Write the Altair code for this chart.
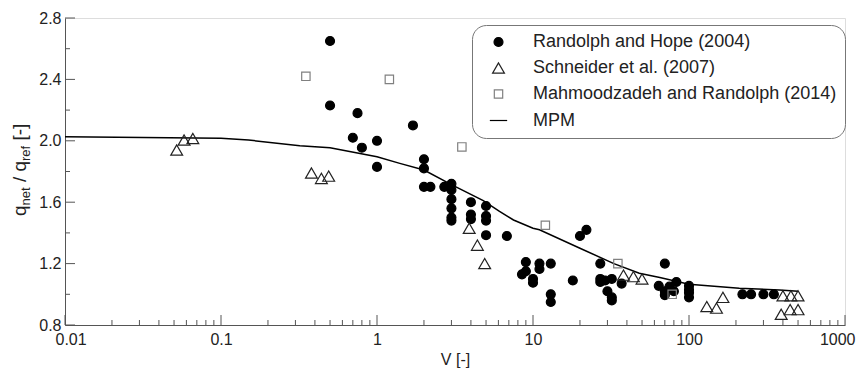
import altair as alt
import pandas as pd

# ---------------- data ----------------
series_names = ["Randolph and Hope (2004)", "Schneider et al. (2007)",
                "Mahmoodzadeh and Randolph (2014)", "MPM"]

rh_V = [0.5, 0.5, 0.75, 1.7, 0.7, 1.0, 0.8, 1.0, 2.0, 2.0, 2.0, 2.2, 2.7,
        3.0, 3.0, 3.0, 3.0, 3.0, 3.0, 4.0, 4.0, 4.0, 5.0, 5.0, 5.0, 5.0,
        6.8, 9.0, 9.0, 8.5, 10, 10, 11, 11, 13, 13, 13, 18, 20, 22,
        27, 27, 27, 29, 32, 30, 32, 32, 37, 64, 70, 70, 70, 75, 80, 83,
        100, 100, 100, 100, 220, 250, 300, 350]
rh_q = [2.65, 2.23, 2.18, 2.10, 2.02, 2.00, 1.955, 1.83, 1.88, 1.82, 1.70, 1.70, 1.70,
        1.72, 1.68, 1.62, 1.56, 1.50, 1.48, 1.60, 1.52, 1.49, 1.575, 1.51, 1.48, 1.385,
        1.38, 1.21, 1.15, 1.13, 1.10, 1.075, 1.20, 1.165, 1.20, 1.00, 0.95, 1.09, 1.38, 1.42,
        1.20, 1.10, 1.08, 1.09, 1.10, 1.02, 0.98, 0.96, 1.07, 1.055, 1.20, 1.02, 0.995, 1.05, 1.02, 1.08,
        1.055, 1.03, 1.01, 0.98, 1.00, 1.00, 1.00, 1.00]

sc_V = [0.052, 0.058, 0.066, 0.38, 0.44, 0.49, 3.9, 4.4, 4.9, 38, 44, 50,
        130, 150, 165, 400, 450, 500, 390, 445, 500]
sc_q = [1.94, 2.005, 2.015, 1.79, 1.755, 1.77, 1.43, 1.32, 1.20, 1.125, 1.115, 1.10,
        0.92, 0.91, 0.98, 0.99, 0.99, 0.99, 0.87, 0.90, 0.90]

mr_V = [0.35, 1.2, 3.5, 12, 35, 78]
mr_q = [2.42, 2.40, 1.96, 1.45, 1.20, 1.00]

mpm_V = [0.01, 0.1, 0.15, 0.32, 0.5, 1.0, 1.4, 2.0, 3.0, 4.8, 6.1, 7.5, 10, 11,
         20, 33, 48, 65, 100, 210, 380, 500]
mpm_q = [2.027, 2.016, 2.005, 1.968, 1.955, 1.896, 1.853, 1.81, 1.715, 1.61, 1.54, 1.484,
         1.43, 1.42, 1.30, 1.20, 1.137, 1.11, 1.065, 1.039, 1.028, 1.02]

x_major = [0.01, 0.1, 1, 10, 100, 1000]
x_minor = [k * 10.0 ** e for e in range(-2, 3) for k in range(2, 10)]
y_major = [0.8, 1.2, 1.6, 2.0, 2.4, 2.8]
y_minor = [1.0, 1.4, 1.8, 2.2, 2.6]

ytitle_parts = ["q", "net", " / q", "ref", " [-]"]
ytitle_sub = [False, True, False, True, False]

# ---------------- layout / style ----------------
W, H = 780, 307
AX = "#555555"
TXT = "#222222"
FONT = "Liberation Sans"

pts = pd.DataFrame({
    "V": rh_V + sc_V + mr_V,
    "q": rh_q + sc_q + mr_q,
    "series": [series_names[0]] * len(rh_V) + [series_names[1]] * len(sc_V)
              + [series_names[2]] * len(mr_V),
})
mpm = pd.DataFrame({"V": mpm_V, "q": mpm_q, "series": series_names[3]})

xs = alt.Scale(type="log", domain=[0.01, 1000], nice=False)
ys = alt.Scale(domain=[0.8, 2.8], nice=False, zero=False)

AXX = alt.Axis(values=x_major, format="~g", ticks=False, grid=False,
               domainColor=AX, labelFlush=True, labelFlushOffset=10, labelPadding=6,
               labelFont=FONT, labelFontSize=16, labelColor=TXT,
               title="V [-]", titleFont=FONT, titleFontSize=16,
               titleFontWeight="normal", titleColor=TXT, titlePadding=4)
AXY = alt.Axis(values=y_major, format=".1f", ticks=False, grid=False,
               domainColor=AX, labelFlush=False, labelPadding=4,
               labelFont=FONT, labelFontSize=16, labelColor=TXT, title="")

leg = alt.Legend(title=None, orient="none", legendX=407, legendY=7,
                 strokeColor="#777777", cornerRadius=14, padding=8,
                 fillColor="white",
                 symbolOffset=9, labelOffset=25, rowPadding=8,
                 labelFont=FONT, labelFontSize=18, labelColor=TXT,
                 symbolStrokeWidth=1.2, labelLimit=400)

shape_sc = alt.Scale(domain=series_names, range=["circle", "triangle-up", "square", "stroke"])
fill_sc = alt.Scale(domain=series_names, range=["black", "transparent", "transparent", "transparent"])
stroke_sc = alt.Scale(domain=series_names, range=["black", "#222222", "#808080", "black"])
size_sc = alt.Scale(type="ordinal", domain=series_names, range=[80, 140, 70, 300])

line = alt.Chart(mpm).mark_line(strokeWidth=1.5).encode(
    x=alt.X("V:Q", scale=xs, axis=AXX),
    y=alt.Y("q:Q", scale=ys, axis=AXY),
    stroke=alt.Stroke("series:N", scale=stroke_sc, legend=leg),
)

points = alt.Chart(pts).mark_point(opacity=1, strokeWidth=1.2).encode(
    x=alt.X("V:Q", scale=xs, axis=AXX),
    y=alt.Y("q:Q", scale=ys, axis=AXY),
    shape=alt.Shape("series:N", scale=shape_sc, legend=leg),
    fill=alt.Fill("series:N", scale=fill_sc, legend=leg),
    stroke=alt.Stroke("series:N", scale=stroke_sc, legend=leg),
    size=alt.Size("series:N", scale=size_sc, legend=leg),
)


def xticks(vals, length):
    return alt.Chart(pd.DataFrame({"V": vals})).mark_rule(color=AX, strokeWidth=1).encode(
        x=alt.X("V:Q", scale=xs, axis=AXX), y=alt.value(H), y2=alt.value(H - length))


def yticks(vals, length):
    return alt.Chart(pd.DataFrame({"q": vals})).mark_rule(color=AX, strokeWidth=1).encode(
        y=alt.Y("q:Q", scale=ys, axis=AXY), x=alt.value(0), x2=alt.value(length))


# y-axis title with subscripts, built from rotated text pieces
widths = {"q": 0.556, "n": 0.556, "e": 0.556, "t": 0.278, " ": 0.278, "/": 0.278,
          "r": 0.333, "f": 0.278, "[": 0.278, "-": 0.333, "]": 0.278}
BIG, SMALL = 19, 13
ypos = 198
title_layers = []
for part, sub in zip(ytitle_parts, ytitle_sub):
    fs = SMALL if sub else BIG
    lead = len(part) - len(part.lstrip(" "))
    ypos -= fs * widths[" "] * lead
    body = part.strip(" ")
    title_layers.append(
        alt.Chart(pd.DataFrame({"t": [body]})).mark_text(
            angle=270, align="left", baseline="alphabetic", font=FONT,
            fontSize=fs, color=TXT).encode(
            text="t:N", x=alt.value(-39 + (4 if sub else 0)), y=alt.value(ypos)))
    ypos -= fs * sum(widths[c] for c in body)

chart = alt.layer(
    line, points,
    xticks(x_major, 10), xticks(x_minor, 5), yticks(y_major, 10), yticks(y_minor, 5),
    *title_layers
).properties(
    width=W, height=H,
    padding={"left": 57, "top": 10, "right": 11, "bottom": 45},
    autosize=alt.AutoSizeParams(type="none"),
).configure_view(stroke=None).configure(background="white")

chart.save("out.html", embed_options={"renderer": "svg", "actions": False})
